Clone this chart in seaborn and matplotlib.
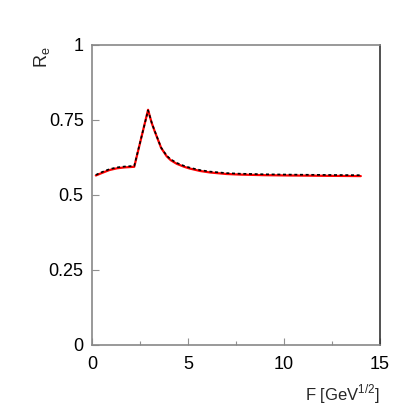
import matplotlib
matplotlib.use("Agg")
import matplotlib.pyplot as plt
import seaborn as sns
import pandas as pd
from matplotlib.ticker import MultipleLocator

F_vals = [0.2, 0.5, 0.9, 1.3, 1.7, 2.2, 2.92, 3.0, 3.11, 3.25, 3.37, 3.6, 3.89,
          4.1, 4.41, 4.8, 5.1, 5.63, 6.15, 7.0, 7.71, 9.0, 10.3, 12.0, 14.0]
R_model = [0.565, 0.573, 0.583, 0.589, 0.592, 0.594, 0.784, 0.765, 0.740, 0.715,
           0.695, 0.657, 0.629, 0.616, 0.604, 0.594, 0.588, 0.580, 0.575, 0.570,
           0.568, 0.566, 0.565, 0.564, 0.563]
R_fit = [0.567, 0.576, 0.586, 0.592, 0.595, 0.597, 0.782, 0.765, 0.741, 0.716,
         0.696, 0.658, 0.631, 0.619, 0.607, 0.597, 0.591, 0.583, 0.578, 0.573,
         0.571, 0.569, 0.568, 0.567, 0.566]

x_ticks = [0, 5, 10, 15]
y_ticks = [0, 0.25, 0.5, 0.75, 1]
y_ticklabels = ["0", "0.25", "0.5", "0.75", "1"]

sns.set_style("ticks")
plt.rcParams["font.family"] = ["Liberation Sans", "DejaVu Sans"]
plt.rcParams["mathtext.fontset"] = "custom"
plt.rcParams["mathtext.rm"] = "Liberation Sans"

fig = plt.figure(figsize=(4.15, 4.15), dpi=100)
ax = fig.add_axes([0.2217, 0.1687, 0.694, 0.7229])

df_red = pd.DataFrame({"F": F_vals, "R": R_model})
df_blk = pd.DataFrame({"F": F_vals, "R": R_fit})
sns.lineplot(data=df_red, x="F", y="R", ax=ax, color="red", lw=1.6, sort=False)
sns.lineplot(data=df_blk, x="F", y="R", ax=ax, color="black", lw=1.2,
             linestyle=(0, (1.8, 1.6)), sort=False)

ax.set_xlim(0, 15)
ax.set_ylim(0, 1)
ax.set_xticks(x_ticks)
ax.set_xticklabels([str(t) for t in x_ticks])
ax.xaxis.set_minor_locator(MultipleLocator(2.5))
ax.set_yticks(y_ticks)
ax.set_yticklabels(y_ticklabels)

ax.tick_params(axis="both", which="major", direction="in", length=5, width=0.8,
               color="#909090", labelsize=13, labelcolor="black")
ax.tick_params(axis="x", which="major", pad=8)
ax.tick_params(axis="y", which="major", pad=6)
ax.tick_params(axis="x", which="minor", direction="in", length=3, width=0.8,
               color="#909090")

for side in ["left", "top", "bottom"]:
    ax.spines[side].set_color("#888888")
    ax.spines[side].set_linewidth(1.2)
ax.spines["right"].set_color("#333333")
ax.spines["right"].set_linewidth(1.2)

ax.set_xlabel(r"F [GeV$^{\mathregular{1/2}}$]", fontsize=12)
ax.xaxis.set_label_coords(1.0, -0.125)
ax.xaxis.label.set_horizontalalignment("right")
ax.set_ylabel(r"R$_{\mathregular{e}}$", fontsize=13)
ax.yaxis.set_label_coords(-0.14, 0.995)
ax.yaxis.label.set_horizontalalignment("right")

fig.savefig("out.png", dpi=100)
